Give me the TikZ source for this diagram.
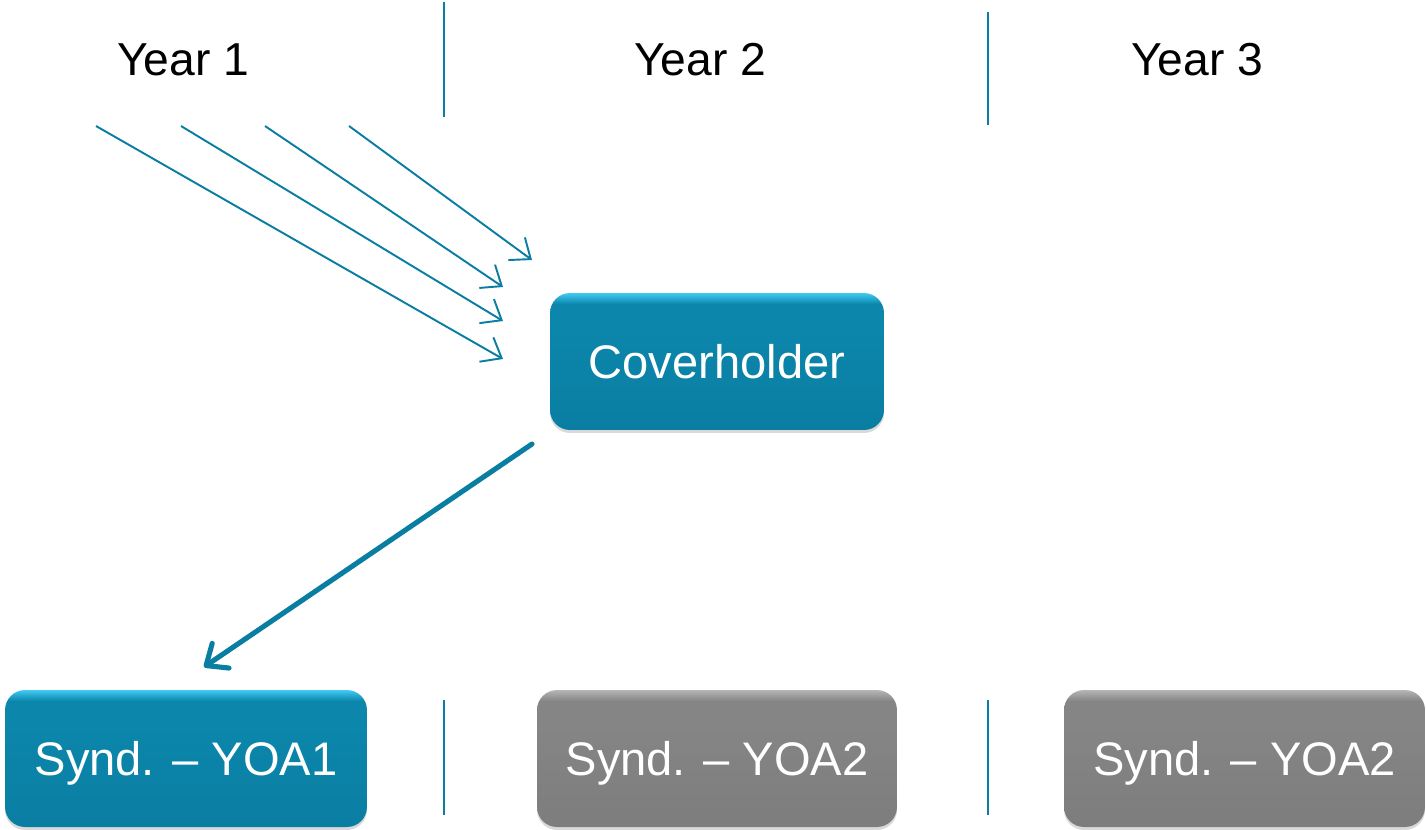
\documentclass[tikz,border=0pt]{standalone}
\usepackage{fontspec}
\setmainfont{Liberation Sans}
\usetikzlibrary{arrows.meta,shadows}

\definecolor{teal}{HTML}{0A7EA2}
\definecolor{tealtop}{HTML}{40CAF2}
\definecolor{tealmid}{HTML}{0C86AB}
\definecolor{greymain}{HTML}{7D7D7D}
\definecolor{greytop}{HTML}{B5B5B5}
\definecolor{greymid}{HTML}{858585}

% glossy fills: flat body with a thin bright band along the top edge
\pgfdeclareverticalshading{tealgloss}{100bp}{%
  color(0bp)=(teal); color(25bp)=(teal); color(62bp)=(tealmid);
  color(71bp)=(tealmid); color(75bp)=(tealtop); color(100bp)=(tealtop)}
\pgfdeclareverticalshading{greygloss}{100bp}{%
  color(0bp)=(greymain); color(25bp)=(greymain); color(62bp)=(greymid);
  color(71bp)=(greymid); color(75bp)=(greytop); color(100bp)=(greytop)}

\tikzset{
  yearlabel/.style={font=\fontsize{26.3}{31}\selectfont, text=black, inner sep=0pt},
  divider/.style={draw=teal, line width=0.9pt},
  boxbase/.style={rounded corners=0.4cm, inner sep=0pt,
    font=\fontsize{26.8}{32}\selectfont, text=white,
    drop shadow={shadow xshift=0pt, shadow yshift=-0.06cm, opacity=0.3}},
  bluebox/.style={boxbase, shading=tealgloss},
  greybox/.style={boxbase, shading=greygloss},
  synd/.style={minimum height=2.74cm, text height=0.7cm, text depth=0.04cm},
  thinarrow/.style={draw=teal, line width=1.1pt, -{Straight Barb[length=10pt, width=16pt, line width=1.1pt]}},
  thickarrow/.style={draw=teal, line width=2.9pt, line cap=round, -{Straight Barb[length=10pt, width=17pt, line width=2.9pt, round]}}
}

\begin{document}
\begin{tikzpicture}[x=0.02cm, y=-0.02cm]
  \useasboundingbox (0,0) rectangle (1426,829);

  % column headings
  \node[yearlabel] (y1) at (183,60) {Year 1};
  \node[yearlabel] (y2) at (700,60) {Year 2};
  \node[yearlabel] (y3) at (1197,60) {Year 3};

  % column dividers
  \coordinate (d1a) at (444,2);   \coordinate (d1b) at (444,117);
  \coordinate (d2a) at (988,12);  \coordinate (d2b) at (988,125);
  \coordinate (d3a) at (444,700); \coordinate (d3b) at (444,815);
  \coordinate (d4a) at (988,700); \coordinate (d4b) at (988,815);
  \draw[divider] (d1a) -- (d1b);
  \draw[divider] (d2a) -- (d2b);
  \draw[divider] (d3a) -- (d3b);
  \draw[divider] (d4a) -- (d4b);

  % boxes
  \node[bluebox, minimum width=6.68cm, minimum height=2.74cm] (cov) at (717,361.5) {Coverholder};
  \node[bluebox, synd, minimum width=7.24cm] (s1) at (186,758.5) {Synd. -- YOA1};
  \node[greybox, synd, minimum width=7.2cm] (s2) at (717,758.5) {Synd. -- YOA2};
  \node[greybox, synd, minimum width=7.22cm] (s3) at (1244.5,758.5) {Synd. -- YOA2};

  % incoming flows into the coverholder
  \coordinate (a1) at (96,126);  \coordinate (b1) at (503,359);
  \coordinate (a2) at (181,126); \coordinate (b2) at (503,321);
  \coordinate (a3) at (265,126); \coordinate (b3) at (503,287);
  \coordinate (a4) at (349,126); \coordinate (b4) at (532,260);
  \draw[thinarrow] (a1) -- (b1);
  \draw[thinarrow] (a2) -- (b2);
  \draw[thinarrow] (a3) -- (b3);
  \draw[thinarrow] (a4) -- (b4);

  % coverholder to first syndicate year
  \coordinate (c1) at (532,444);
  \coordinate (c2) at (204,667);
  \draw[thickarrow] (c1) -- (c2);
\end{tikzpicture}
\end{document}
